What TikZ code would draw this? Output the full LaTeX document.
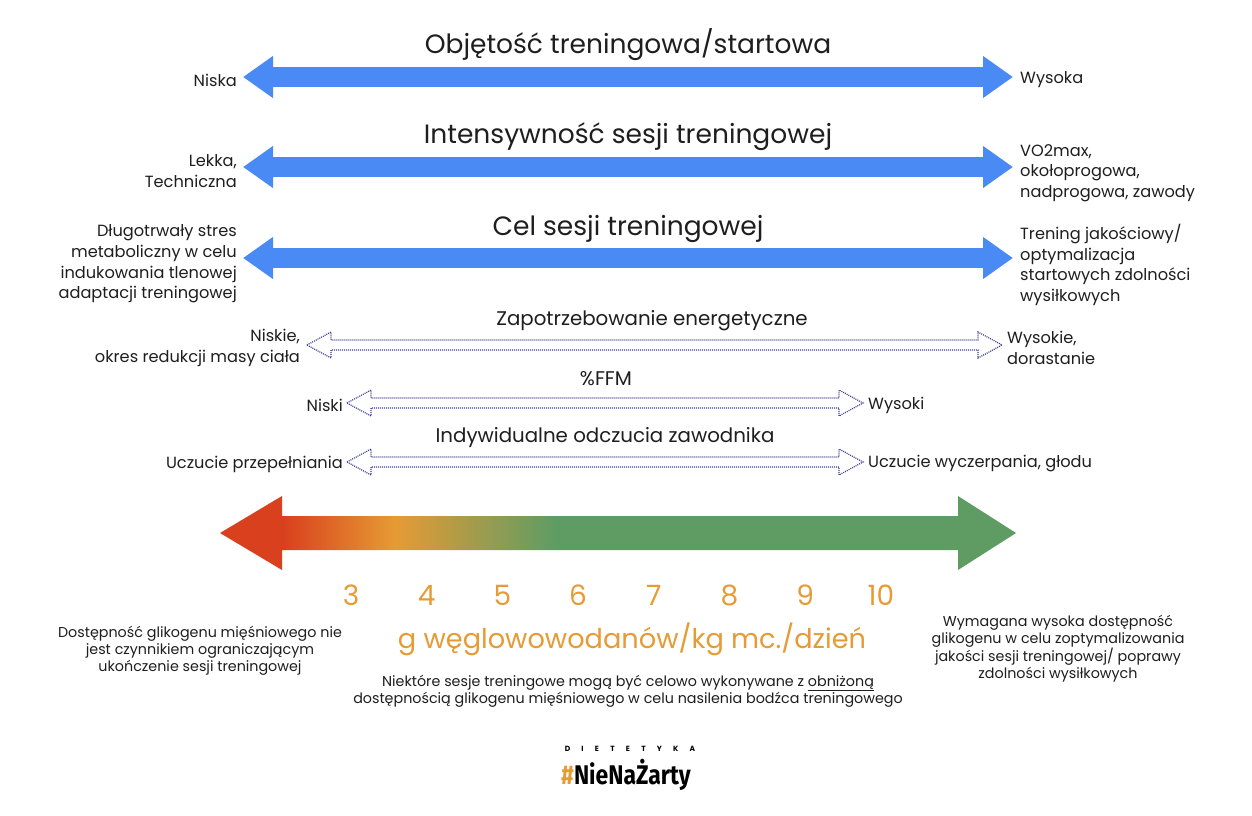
\documentclass[tikz,border=0pt]{standalone}
\usepackage{fontspec}
\setmainfont{Poppins}
\newfontfamily\logofont{Fira Sans}
\usetikzlibrary{arrows.meta,calc,positioning}

\definecolor{arrowblue}{HTML}{4A8AF4}
\definecolor{dotblue}{HTML}{3C3C96}
\definecolor{carbred}{HTML}{D9411E}
\definecolor{carborange}{HTML}{E69B34}
\definecolor{carbgreen}{HTML}{5F9C64}
\definecolor{textgray}{HTML}{1E1E1E}

\pgfdeclarehorizontalshading{carbs}{100bp}{color(0bp)=(carbred); color(29bp)=(carbred); color(36bp)=(carborange); color(46bp)=(carbgreen); color(100bp)=(carbgreen)}

\newcommand{\hollowarrow}[2]{% left tip, right tip
	\draw[hollow] (#1) -- ++(24,-13) -- ++(0,8) -- ($(#2)+(-24,-5)$) -- ++(0,-8) -- (#2)
		-- ++(-24,13) -- ++(0,-8) -- ($(#1)+(24,5)$) -- ++(0,8) -- cycle;}

\begin{document}
\begin{tikzpicture}[x=1pt,y=-1pt,
	title/.style={font=\fontsize{26.5}{30}\selectfont, text=textgray, inner sep=0pt},
	subtitle/.style={font=\fontsize{19.8}{22}\selectfont, text=textgray, inner sep=0pt},
	lefttext/.style={font=\fontsize{16.2}{20.7}\selectfont, text=textgray, align=right, anchor=east, inner sep=0pt},
	righttext/.style={font=\fontsize{16.2}{20.7}\selectfont, text=textgray, align=left, anchor=west, inner sep=0pt},
	note/.style={font=\fontsize{14.3}{17}\selectfont, text=textgray, align=center, inner sep=0pt},
	num/.style={font=\fontsize{28}{30}\selectfont, text=carborange, inner sep=0pt},
	bluearrow/.style={arrowblue, line width=20pt,
		{Triangle[length=30pt 0,width=40pt 0]}-{Triangle[length=30pt 0,width=40pt 0]}},
	hollow/.style={dotblue, dash pattern=on 1pt off 1pt, line width=1.2pt, line join=miter}]

	\useasboundingbox (0,0) rectangle (1252,815);
	\fill[white] (0,0) rectangle (1252,815);

	% blue arrows
	\coordinate (vol-l) at (243,77);
	\coordinate (vol-r) at (1013,77);
	\coordinate (int-l) at (243,167);
	\coordinate (int-r) at (1013,167);
	\coordinate (cel-l) at (243,258);
	\coordinate (cel-r) at (1013,258);
	\draw[bluearrow] (vol-l) -- (vol-r);
	\draw[bluearrow] (int-l) -- (int-r);
	\draw[bluearrow] (cel-l) -- (cel-r);

	\node[title] (vol) at (628,45) {Objętość treningowa/startowa};
	\node[title] (int) at (628,137) {Intensywność sesji treningowej};
	\node[title] (cel) at (628,229) {Cel sesji treningowej};

	\node[lefttext] (vol-low) at (237,80) {Niska};
	\node[righttext] (vol-high) at (1020,80) {Wysoka};
	\node[lefttext] (int-low) at (237,171) {Lekka,\\Techniczna};
	\node[righttext] (int-high) at (1020,173) {VO2max,\\okołoprogowa,\\nadprogowa, zawody};
	\node[lefttext] (cel-low) at (237,264) {Długotrwały stres\\metaboliczny w celu\\indukowania tlenowej\\adaptacji treningowej};
	\node[righttext] (cel-high) at (1020,265) {Trening jakościowy/\\optymalizacja\\startowych zdolności\\wysiłkowych};

	% dotted arrows
	\coordinate (ene-l) at (307,345);
	\coordinate (ene-r) at (1002,345);
	\coordinate (ffm-l) at (347,403);
	\coordinate (ffm-r) at (863,403);
	\coordinate (ind-l) at (347,462);
	\coordinate (ind-r) at (863,462);
	\hollowarrow{ene-l}{ene-r}
	\hollowarrow{ffm-l}{ffm-r}
	\hollowarrow{ind-l}{ind-r}

	\node[subtitle] (ene) at (652,321) {Zapotrzebowanie energetyczne};
	\node[subtitle] (ffm) at (606,379) {\%FFM};
	\node[subtitle] (ind) at (605,438) {Indywidualne odczucia zawodnika};

	\node[lefttext] (ene-low) at (300,348) {Niskie,\\okres redukcji masy ciała};
	\node[righttext] (ene-high) at (1007,348) {Wysokie,\\dorastanie};
	\node[lefttext] (ffm-low) at (343,405) {Niski};
	\node[righttext] (ffm-high) at (868,405) {Wysoki};
	\node[lefttext] (ind-low) at (343,464) {Uczucie przepełniania};
	\node[righttext] (ind-high) at (868,464) {Uczucie wyczerpania, głodu};

	% carbohydrate scale
	\coordinate (carb-l) at (220,533);
	\coordinate (carb-r) at (1016,533);
	\shade[shading=carbs] (carb-l) -- ++(62,-37) -- ++(0,20) -- ($(carb-r)+(-58,-17)$) -- ++(0,-20) -- (carb-r)
		-- ++(-58,37) -- ++(0,-20) -- ($(carb-l)+(62,17)$) -- ++(0,20) -- cycle;

	\foreach \n [count=\i from 0] in {3,...,10}
		\node[num] (n\n) at (351+75.7*\i,595) {\n};
	\node[num, font=\fontsize{27.2}{30}\selectfont] (unit) at (632,639) {g węglowowodanów/kg mc./dzień};

	\node[note] (low) at (200,651) {Dostępność glikogenu mięśniowego nie\\jest czynnikiem ograniczającym\\ukończenie sesji treningowej};
	\node[note] (mid) at (628,691) {Niektóre sesje treningowe mogą być celowo wykonywane z \underline{obniżoną}\\dostępnością glikogenu mięśniowego w celu nasilenia bodźca treningowego};
	\node[note] (high) at (1058,649) {Wymagana wysoka dostępność\\glikogenu w celu zoptymalizowania\\jakości sesji treningowej/ poprawy\\zdolności wysiłkowych};

	% logo
	\node[font=\bfseries\fontsize{7.5}{8}\selectfont\addfontfeatures{LetterSpace=150}, inner sep=0pt] (diet) at (630,749) {DIETETYKA};
	\node[font=\logofont\bfseries\fontsize{27}{28}\selectfont, inner sep=0pt, xscale=0.85] (brand) at (626,775) {\textcolor{carborange}{\#}NieNaŻarty};
\end{tikzpicture}
\end{document}
